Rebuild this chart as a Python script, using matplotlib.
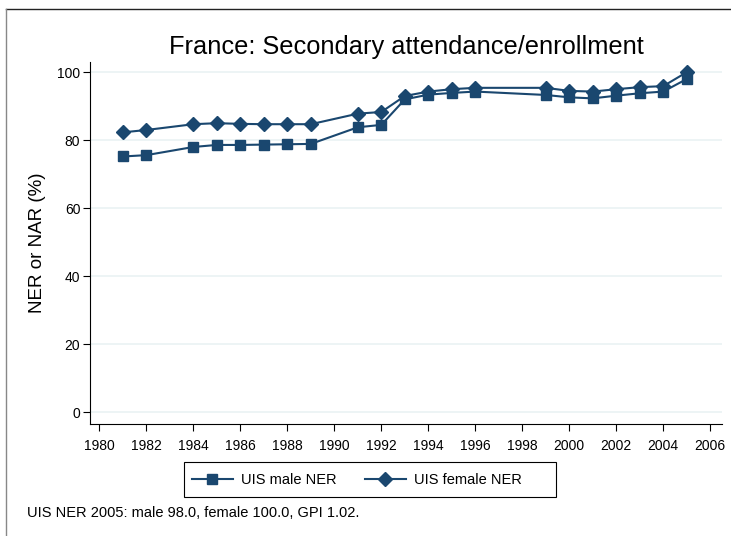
import numpy as np
import matplotlib
matplotlib.use("Agg")
import matplotlib.pyplot as plt
from matplotlib.lines import Line2D

years_male = [1981, 1982, 1984, 1985, 1986, 1987, 1988, 1989, 1991, 1992, 1993,
              1994, 1995, 1996, 1999, 2000, 2001, 2002, 2003, 2004, 2005]
male_ner = [75.2, 75.6, 78.0, 78.6, 78.6, 78.7, 78.8, 78.9, 83.8, 84.5, 92.0,
            93.4, 93.9, 94.3, 93.3, 92.6, 92.3, 93.1, 93.8, 94.3, 98.0]
years_female = years_male
female_ner = [82.3, 83.0, 84.7, 85.0, 84.8, 84.7, 84.7, 84.7, 87.8, 88.3, 93.0,
              94.3, 95.0, 95.4, 95.4, 94.5, 94.3, 95.0, 95.6, 95.9, 100.0]
xticks = list(range(1980, 2007, 2))
yticks = [0, 20, 40, 60, 80, 100]

navy = '#1a476f'
plt.rcParams['font.family'] = ['Liberation Sans', 'DejaVu Sans']

W, H = 731, 536
fig = plt.figure(figsize=(W/100, H/100), dpi=100)
ax = fig.add_axes([90/W, 1 - 424/H, (722-90)/W, (424-62)/H])

for yt in yticks:
    ax.axhline(yt, color='#eaf2f3', lw=1.2, zorder=0)

ax.plot(years_male, male_ner, color=navy, marker='s', markersize=7, lw=1.5,
        label='UIS male NER', zorder=3)
ax.plot(years_female, female_ner, color=navy, marker='D', markersize=7.5, lw=1.5,
        label='UIS female NER', zorder=3)

ax.set_xlim(1979.6, 2006.5)
ax.set_ylim(-3.5, 103)
ax.set_xticks(xticks)
ax.set_yticks(yticks)
ax.tick_params(labelsize=10, length=5, color='black')
ax.tick_params(axis='x', pad=6)
ax.tick_params(axis='y', pad=2)
for s in ['top', 'right']:
    ax.spines[s].set_visible(False)

ax.set_ylabel('NER or NAR (%)', fontsize=13.5, labelpad=8)
ax.set_title('France: Secondary attendance/enrollment', fontsize=18.3, pad=6)

# legend without frame, box drawn separately
leg = fig.legend(loc='center', bbox_to_anchor=(357/W, 1 - 480/H), ncol=2,
                 fontsize=10.5, frameon=False, columnspacing=1.9,
                 handlelength=2.8, handletextpad=0.6)
fig.patches.append(plt.Rectangle((184/W, 1 - 497/H), (556-184)/W, 35/H,
                                 transform=fig.transFigure, fill=False,
                                 edgecolor='black', lw=0.8))

fig.text(27/W, 1 - 513/H, 'UIS NER 2005: male 98.0, female 100.0, GPI 1.02.',
         fontsize=10.5, va='center')

# outer border (top and left only)
fig.lines.append(Line2D([6/W, 1], [1 - 9/H, 1 - 9/H], transform=fig.transFigure,
                        color='#222222', lw=1.0))
fig.lines.append(Line2D([6/W, 6/W], [0, 1 - 9/H], transform=fig.transFigure,
                        color='#888888', lw=1.0))

plt.savefig('out.png', dpi=100)
